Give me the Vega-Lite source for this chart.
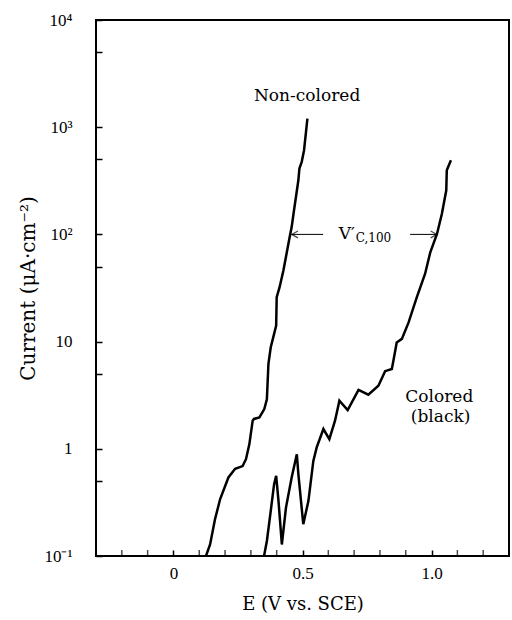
{
  "$schema": "https://vega.github.io/schema/vega-lite/v6.json",
  "width": 413,
  "height": 536,
  "autosize": {"type": "none"},
  "padding": {"left": 96, "top": 20, "right": 3, "bottom": 64},
  "background": "white",
  "config": {
    "view": {"stroke": "black", "strokeWidth": 2},
    "axis": {"grid": false, "domain": false, "tickColor": "black", "labelColor": "black", "titleColor": "black", "labelFont": "Liberation Serif", "titleFont": "DejaVu Serif", "labelFontSize": 17, "titleFontSize": 18, "titleFontWeight": "normal", "tickSize": -6, "tickWidth": 1.5}
  },
  "datasets": {
    "curves": [
      {"s": "Non-colored", "i": 1, "E": 0.126, "I": 0.1},
      {"s": "Non-colored", "i": 2, "E": 0.142, "I": 0.128},
      {"s": "Non-colored", "i": 3, "E": 0.161, "I": 0.22},
      {"s": "Non-colored", "i": 4, "E": 0.181, "I": 0.34},
      {"s": "Non-colored", "i": 5, "E": 0.213, "I": 0.54},
      {"s": "Non-colored", "i": 6, "E": 0.239, "I": 0.65},
      {"s": "Non-colored", "i": 7, "E": 0.268, "I": 0.69},
      {"s": "Non-colored", "i": 8, "E": 0.281, "I": 0.8},
      {"s": "Non-colored", "i": 9, "E": 0.294, "I": 1.1},
      {"s": "Non-colored", "i": 10, "E": 0.307, "I": 1.83},
      {"s": "Non-colored", "i": 11, "E": 0.312, "I": 1.9},
      {"s": "Non-colored", "i": 12, "E": 0.333, "I": 1.96},
      {"s": "Non-colored", "i": 13, "E": 0.352, "I": 2.35},
      {"s": "Non-colored", "i": 14, "E": 0.362, "I": 2.9},
      {"s": "Non-colored", "i": 15, "E": 0.368, "I": 6.2},
      {"s": "Non-colored", "i": 16, "E": 0.377, "I": 8.85},
      {"s": "Non-colored", "i": 17, "E": 0.39, "I": 11.8},
      {"s": "Non-colored", "i": 18, "E": 0.398, "I": 14.1},
      {"s": "Non-colored", "i": 19, "E": 0.4, "I": 26},
      {"s": "Non-colored", "i": 20, "E": 0.411, "I": 32},
      {"s": "Non-colored", "i": 21, "E": 0.426, "I": 46},
      {"s": "Non-colored", "i": 22, "E": 0.449, "I": 91},
      {"s": "Non-colored", "i": 23, "E": 0.458, "I": 117},
      {"s": "Non-colored", "i": 24, "E": 0.467, "I": 167},
      {"s": "Non-colored", "i": 25, "E": 0.484, "I": 320},
      {"s": "Non-colored", "i": 26, "E": 0.488, "I": 411},
      {"s": "Non-colored", "i": 27, "E": 0.497, "I": 475},
      {"s": "Non-colored", "i": 28, "E": 0.506, "I": 610},
      {"s": "Non-colored", "i": 29, "E": 0.519, "I": 1205},
      {"s": "Colored", "i": 1, "E": 0.351, "I": 0.1},
      {"s": "Colored", "i": 2, "E": 0.362, "I": 0.138},
      {"s": "Colored", "i": 3, "E": 0.377, "I": 0.264},
      {"s": "Colored", "i": 4, "E": 0.39, "I": 0.468},
      {"s": "Colored", "i": 5, "E": 0.398, "I": 0.56},
      {"s": "Colored", "i": 6, "E": 0.407, "I": 0.327},
      {"s": "Colored", "i": 7, "E": 0.42, "I": 0.128},
      {"s": "Colored", "i": 8, "E": 0.436, "I": 0.283},
      {"s": "Colored", "i": 9, "E": 0.458, "I": 0.54},
      {"s": "Colored", "i": 10, "E": 0.478, "I": 0.89},
      {"s": "Colored", "i": 11, "E": 0.484, "I": 0.58},
      {"s": "Colored", "i": 12, "E": 0.503, "I": 0.198},
      {"s": "Colored", "i": 13, "E": 0.523, "I": 0.327},
      {"s": "Colored", "i": 14, "E": 0.542, "I": 0.77},
      {"s": "Colored", "i": 15, "E": 0.555, "I": 1.03},
      {"s": "Colored", "i": 16, "E": 0.581, "I": 1.53},
      {"s": "Colored", "i": 17, "E": 0.604, "I": 1.23},
      {"s": "Colored", "i": 18, "E": 0.626, "I": 1.83},
      {"s": "Colored", "i": 19, "E": 0.643, "I": 2.81},
      {"s": "Colored", "i": 20, "E": 0.675, "I": 2.3},
      {"s": "Colored", "i": 21, "E": 0.717, "I": 3.54},
      {"s": "Colored", "i": 22, "E": 0.755, "I": 3.2},
      {"s": "Colored", "i": 23, "E": 0.794, "I": 3.88},
      {"s": "Colored", "i": 24, "E": 0.82, "I": 5.3},
      {"s": "Colored", "i": 25, "E": 0.846, "I": 5.55},
      {"s": "Colored", "i": 26, "E": 0.852, "I": 6.6},
      {"s": "Colored", "i": 27, "E": 0.865, "I": 9.8},
      {"s": "Colored", "i": 28, "E": 0.885, "I": 10.6},
      {"s": "Colored", "i": 29, "E": 0.911, "I": 15.1},
      {"s": "Colored", "i": 30, "E": 0.943, "I": 26},
      {"s": "Colored", "i": 31, "E": 0.975, "I": 43},
      {"s": "Colored", "i": 32, "E": 0.995, "I": 68},
      {"s": "Colored", "i": 33, "E": 1.021, "I": 101},
      {"s": "Colored", "i": 34, "E": 1.04, "I": 156},
      {"s": "Colored", "i": 35, "E": 1.057, "I": 258},
      {"s": "Colored", "i": 36, "E": 1.059, "I": 396},
      {"s": "Colored", "i": 37, "E": 1.075, "I": 492}
    ],
    "minorx": [
      {"E": -0.2}, {"E": -0.1}, {"E": 0.1}, {"E": 0.2}, {"E": 0.3}, {"E": 0.4},
      {"E": 0.6}, {"E": 0.7}, {"E": 0.8}, {"E": 0.9}, {"E": 1.1}, {"E": 1.2}
    ],
    "arrows": [
      {"side": "left", "E": 0.458, "E2": 0.58, "I": 100},
      {"side": "right", "E": 1.021, "E2": 0.917, "I": 100}
    ],
    "labels": [
      {"text": "Non-colored", "E": 0.518, "I": 1950},
      {"text": "Colored", "E": 1.03, "I": 3.06},
      {"text": "(black)", "E": 1.035, "I": 1.99}
    ],
    "vc": [
      {"kind": "main", "text": "V′", "E": 0.672, "I": 100},
      {"kind": "sub", "text": "C,100", "E": 0.706, "I": 100}
    ]
  },
  "layer": [
    {
      "data": {"name": "curves"},
      "mark": {"type": "line", "color": "black", "strokeWidth": 2.5, "clip": true},
      "encoding": {
        "x": {"field": "E", "type": "quantitative", "scale": {"domain": [-0.3, 1.3], "nice": false, "zero": false},
          "axis": {"title": "E (V vs. SCE)", "values": [0, 0.5, 1],
            "labelExpr": "datum.value == 0 ? '0' : datum.value == 1 ? '1.0' : '0.5'",
            "labelOverlap": false, "labelFlush": false, "labelPadding": 15, "titlePadding": 14}},
        "y": {"field": "I", "type": "quantitative", "scale": {"type": "log", "domain": [0.1, 10000], "nice": false},
          "axis": {"title": "Current (μA·cm⁻²)", "titleFontSize": 20, "values": [0.1, 0.5, 1, 5, 10, 50, 100, 500, 1000, 5000, 10000],
            "labelExpr": "datum.value == 0.1 ? '10⁻¹' : datum.value == 1 ? '1' : datum.value == 10 ? '10' : datum.value == 100 ? '10²' : datum.value == 1000 ? '10³' : datum.value == 10000 ? '10⁴' : ''",
            "labelOverlap": false, "labelFlush": false, "labelPadding": 30, "titlePadding": 5}},
        "detail": {"field": "s"},
        "order": {"field": "i", "type": "quantitative"}
      }
    },
    {
      "data": {"name": "minorx"},
      "mark": {"type": "tick", "orient": "vertical", "size": 12, "thickness": 1.5, "color": "black", "clip": true},
      "encoding": {"x": {"field": "E", "type": "quantitative"}, "y": {"datum": 0.1, "type": "quantitative"}}
    },
    {
      "data": {"name": "arrows"},
      "mark": {"type": "rule", "color": "black", "strokeWidth": 1},
      "encoding": {"x": {"field": "E", "type": "quantitative"}, "x2": {"field": "E2"}, "y": {"field": "I", "type": "quantitative"}}
    },
    {
      "data": {"name": "arrows"},
      "transform": [{"filter": "datum.side == 'left'"}],
      "mark": {"type": "point", "shape": "M2,-1.1L0,0L2,1.1", "filled": false, "color": "black", "strokeWidth": 1.2, "size": 40},
      "encoding": {"x": {"field": "E", "type": "quantitative"}, "y": {"field": "I", "type": "quantitative"}}
    },
    {
      "data": {"name": "arrows"},
      "transform": [{"filter": "datum.side == 'right'"}],
      "mark": {"type": "point", "shape": "M-2,-1.1L0,0L-2,1.1", "filled": false, "color": "black", "strokeWidth": 1.2, "size": 40},
      "encoding": {"x": {"field": "E", "type": "quantitative"}, "y": {"field": "I", "type": "quantitative"}}
    },
    {
      "data": {"name": "labels"},
      "mark": {"type": "text", "font": "DejaVu Serif", "fontSize": 17, "color": "black", "align": "center", "baseline": "middle"},
      "encoding": {"x": {"field": "E", "type": "quantitative"}, "y": {"field": "I", "type": "quantitative"}, "text": {"field": "text"}}
    },
    {
      "data": {"name": "vc"},
      "transform": [{"filter": "datum.kind == 'main'"}],
      "mark": {"type": "text", "font": "DejaVu Serif", "fontSize": 17, "color": "black", "align": "center", "baseline": "middle"},
      "encoding": {"x": {"field": "E", "type": "quantitative"}, "y": {"field": "I", "type": "quantitative"}, "text": {"field": "text"}}
    },
    {
      "data": {"name": "vc"},
      "transform": [{"filter": "datum.kind == 'sub'"}],
      "mark": {"type": "text", "font": "DejaVu Serif", "fontSize": 12, "color": "black", "align": "left", "baseline": "middle", "dy": 4},
      "encoding": {"x": {"field": "E", "type": "quantitative"}, "y": {"field": "I", "type": "quantitative"}, "text": {"field": "text"}}
    }
  ]
}
